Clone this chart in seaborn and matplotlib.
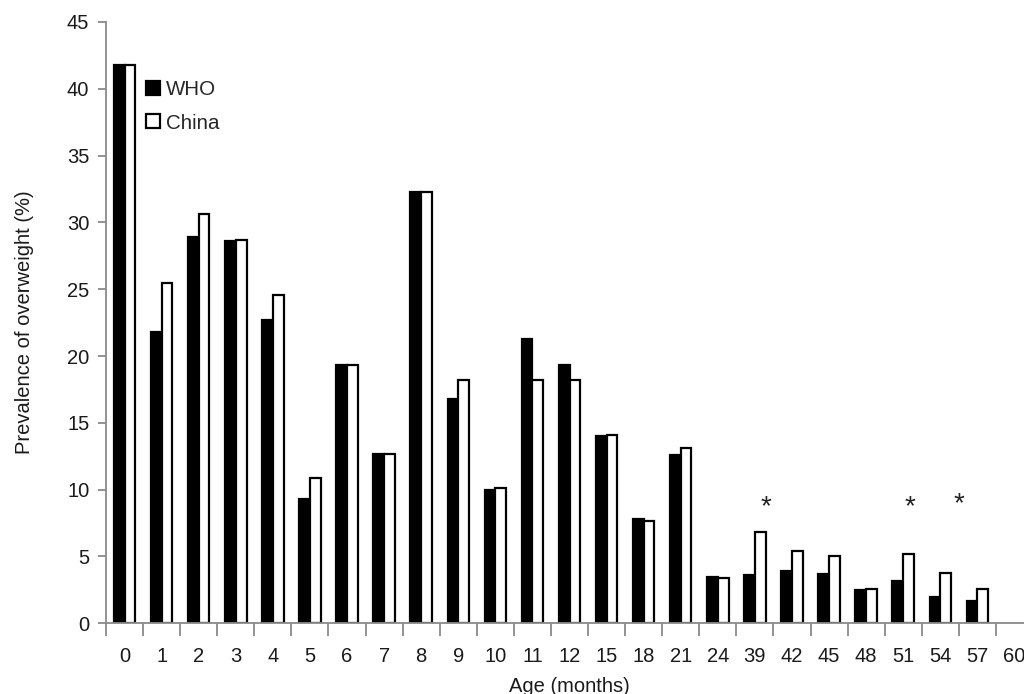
import numpy as np
import pandas as pd
import matplotlib
matplotlib.use("Agg")
import matplotlib.pyplot as plt
import seaborn as sns

# age groups (months) shown on the x axis; the last slot (60) has no bars
ages = ["0", "1", "2", "3", "4", "5", "6", "7", "8", "9", "10", "11", "12",
        "15", "18", "21", "24", "39", "42", "45", "48", "51", "54", "57"]
age_slots = ages + ["60"]

# prevalence of overweight (%) by reference standard
who = [41.8, 21.8, 28.9, 28.6, 22.7, 9.3, 19.3, 12.7, 32.3, 16.8, 10.0, 21.3, 19.3,
       14.0, 7.8, 12.6, 3.45, 3.6, 3.9, 3.7, 2.5, 3.2, 2.0, 1.7]
china = [41.8, 25.5, 30.6, 28.7, 24.6, 10.9, 19.3, 12.7, 32.3, 18.2, 10.1, 18.2, 18.2,
         14.1, 7.65, 13.1, 3.4, 6.8, 5.4, 5.0, 2.6, 5.2, 3.8, 2.6]

# significance markers: (age group, shift within the group, height)
stars = [("39", 0.29, 8.7), ("51", 0.18, 8.65), ("54", 0.5, 8.9)]

df = pd.DataFrame({
    "age": ages * 2,
    "standard": ["WHO"] * len(ages) + ["China"] * len(ages),
    "value": who + china,
})

sns.set_style("white")
plt.rcParams["font.family"] = ["Liberation Sans", "DejaVu Sans"]

fig = plt.figure(figsize=(10.24, 6.94), dpi=100)
ax = fig.add_axes([106 / 1024, 70.7 / 694, 927 / 1024, 601.4 / 694])

sns.barplot(data=df, x="age", y="value", hue="standard", order=age_slots,
            hue_order=["WHO", "China"], palette={"WHO": "black", "China": "white"},
            saturation=1, width=0.58, edgecolor="black", linewidth=1.6,
            errorbar=None, ax=ax)

ax.set_xlim(-0.5, len(age_slots) - 0.5)
ax.set_ylim(0, 45)
ax.set_yticks(np.arange(0, 46, 5))

for name, shift, h in stars:
    ax.text(age_slots.index(name) + shift, h, "*", ha="center", va="center",
            fontsize=20, color="#222222")

for side in ["top", "right"]:
    ax.spines[side].set_visible(False)
for side in ["left", "bottom"]:
    ax.spines[side].set_color("#8a8a8a")
    ax.spines[side].set_linewidth(1.3)

# labels sit under the groups, ticks mark the group boundaries
ax.tick_params(axis="x", which="major", bottom=False, length=0, pad=17,
               labelsize=14.5, labelcolor="#1a1a1a")
ax.set_xticks(np.arange(-0.5, len(age_slots), 1), minor=True)
ax.tick_params(axis="x", which="minor", bottom=True, length=9, width=1.3,
               color="#8a8a8a", direction="out")
ax.tick_params(axis="y", which="major", left=True, length=6, width=1.3,
               color="#8a8a8a", direction="out", labelsize=14.5,
               labelcolor="#1a1a1a", pad=6)

ax.set_xlabel("Age (months)", fontsize=14.5, color="#1a1a1a", labelpad=8)
ax.set_ylabel("Prevalence of overweight (%)", fontsize=14.5, color="#1a1a1a", labelpad=24)

ax.legend(loc="upper left", bbox_to_anchor=(0.043, 0.903), frameon=False,
          fontsize=14.8, handlelength=0.68, handleheight=0.68, handletextpad=0.3,
          labelspacing=0.7, borderaxespad=0, borderpad=0)

fig.savefig("out.png", dpi=100)
